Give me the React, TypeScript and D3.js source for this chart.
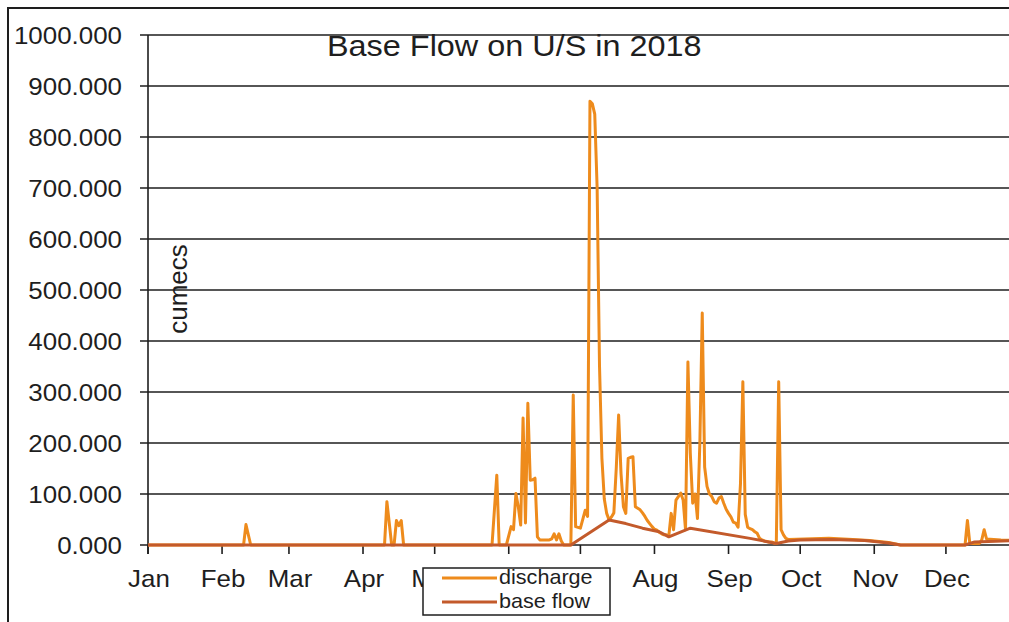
import React from "react";
import * as d3 from "d3";

// Month labels along the date axis
const monthLabels = ["Jan", "Feb", "Mar", "Apr", "May", "Jun", "Jul", "Aug", "Sep", "Oct", "Nov", "Dec"];

// Value axis ticks (cumecs)
const yTicks = [0, 100, 200, 300, 400, 500, 600, 700, 800, 900, 1000];

// Daily discharge, as (day of year from 1 Jan, cumecs); gaps are flat stretches
const dischargeDay = [
  0,
  40, 41, 43,
  99, 100, 102, 103, 104, 105, 106, 107,
  144, 146, 147,
  150, 152, 153, 154, 155, 156, 157, 158, 159, 160, 161, 162, 163, 164, 168, 169, 170, 171, 172, 173, 174,
  177, 178, 179, 181, 183, 184, 185, 186, 187, 188, 189, 190, 191, 192, 193, 194, 195, 196, 197, 198, 199,
  200, 201, 202, 203, 204, 205, 206, 207, 208, 209, 210, 211, 212, 213, 214, 215, 216, 217, 218, 219,
  220, 221, 222, 223, 224, 225, 226, 227, 228, 229, 230, 231, 232, 233, 234, 235, 236, 237, 238, 239,
  240, 241, 242, 243, 244, 245, 246, 247, 248, 249, 250, 251, 252, 253, 254, 255, 256, 257, 258, 259,
  260, 261, 262, 263, 264, 265, 266, 267, 268, 285, 295, 302, 310, 315,
  342, 343, 344, 348, 349, 350, 351, 357, 364,
];
const dischargeValue = [
  0,
  0, 40, 0,
  0, 85, 0, 0, 48, 38, 48, 0,
  0, 137, 0,
  0, 36, 30, 101, 75, 39, 249, 43, 278, 127, 128, 131, 16, 10, 10, 12, 22, 10, 22, 8, 0,
  0, 294, 36, 33, 68, 56, 870, 865, 845, 700, 350, 170, 90, 62, 49, 55, 63, 150, 255, 140, 75,
  62, 170, 172, 173, 75, 72, 69, 63, 56, 48, 42, 36, 31, 29, 25, 22, 20, 20, 18, 62,
  30, 88, 95, 102, 88, 30, 359, 180, 82, 100, 52, 200, 455, 153, 115, 100, 95, 85, 82, 92,
  95, 82, 70, 62, 55, 45, 43, 35, 120, 320, 60, 35, 32, 30, 26, 23, 13, 10, 8, 7,
  6, 6, 4, 3, 320, 30, 20, 13, 11, 13, 11, 9, 5, 0,
  0, 48, 3, 3, 10, 30, 12, 10, 9,
];

// Separated base flow, as (day of year from 1 Jan, cumecs)
const baseFlowDay = [0, 177, 193, 200, 207, 214, 218, 227, 252, 263, 268, 273, 286, 300, 310, 315, 342, 346, 364];
const baseFlowValue = [0, 0, 49, 42, 33, 26, 16, 33, 13, 3, 8, 10, 11, 9, 4, 0, 0, 6, 9];

const seriesNames = ["discharge", "base flow"];
const chartTitle = "Base Flow on U/S in 2018";
const yAxisTitle = "cumecs";

const W = 1009;
const H = 622;
const plot = { left: 148, top: 35, bottom: 545, right: 148 + 365 * 2.389 };
const legendBox = { x: 423, y: 568, w: 187, h: 47 };
const FONT = "'Liberation Sans', Arial, sans-serif";
const STRETCH = 1.08;
const INK = "#1e1e1e";
const DISCHARGE = "#EE8B1C";
const BASEFLOW = "#C35A2B";

type Pt = { date: Date; value: number };

const yearStart = new Date(2018, 0, 1);
const yearEnd = new Date(2019, 0, 1);
const toPoints = (days: number[], values: number[]): Pt[] =>
  days.map((d, i) => ({ date: d3.timeDay.offset(yearStart, d), value: values[i] }));

export default function App() {
  const x = d3.scaleTime().domain([yearStart, yearEnd]).range([plot.left, plot.right]);
  const y = d3.scaleLinear().domain([0, 1000]).range([plot.bottom, plot.top]);

  const line = d3
    .line<Pt>()
    .x((p) => x(p.date))
    .y((p) => y(p.value))
    .curve(d3.curveLinear);

  const discharge = toPoints(dischargeDay, dischargeValue);
  const baseFlow = toPoints(baseFlowDay, baseFlowValue);
  const months = d3.timeMonth.range(yearStart, yearEnd);

  const stretched = (tx: number, ty: number) => `translate(${tx},${ty}) scale(${STRETCH},1)`;
  // month labels lying entirely behind the legend box are not drawn
  const hiddenByLegend = (cx: number) => cx - 20 > legendBox.x && cx + 20 < legendBox.x + legendBox.w;

  return (
    <svg
      width={W}
      height={H}
      style={{ position: "absolute", left: 0, top: 0, background: "#fff" }}
      fontFamily={FONT}
    >
      <rect x={0} y={0} width={W} height={H} fill="#fff" />

      {/* chart frame */}
      <path d={`M8,${H} V8 H${W}`} fill="none" stroke={INK} strokeWidth={2} />

      {/* horizontal gridlines with outside ticks */}
      {yTicks.map((v) => (
        <line key={`g${v}`} x1={plot.left - 8} x2={plot.right} y1={y(v)} y2={y(v)} stroke={INK} strokeWidth={1.6} />
      ))}

      {/* value axis */}
      <line x1={plot.left} x2={plot.left} y1={plot.top} y2={plot.bottom + 9} stroke={INK} strokeWidth={1.6} />
      {yTicks.map((v) => (
        <text
          key={`yl${v}`}
          transform={stretched(122, y(v) + 8.5)}
          textAnchor="end"
          fontSize={24}
          fill={INK}
        >
          {d3.format(".3f")(v)}
        </text>
      ))}

      {/* date axis ticks and month labels */}
      {months.map((m, i) => (
        <g key={`m${i}`}>
          <line x1={x(m)} x2={x(m)} y1={plot.bottom} y2={plot.bottom + 9} stroke={INK} strokeWidth={1.6} />
          {!hiddenByLegend(x(m)) && (
            <text transform={stretched(x(m) + 1, 587)} textAnchor="middle" fontSize={24} fill={INK}>
              {monthLabels[i]}
            </text>
          )}
        </g>
      ))}

      {/* series */}
      <path d={line(discharge) ?? ""} fill="none" stroke={DISCHARGE} strokeWidth={3} strokeLinejoin="round" />
      <path d={line(baseFlow) ?? ""} fill="none" stroke={BASEFLOW} strokeWidth={3} strokeLinejoin="round" />

      {/* title and axis title */}
      <text transform={stretched(327, 56)} fontSize={30} fill={INK}>
        {chartTitle}
      </text>
      <text transform="translate(187,289) rotate(-90)" textAnchor="middle" fontSize={26} fill={INK}>
        {yAxisTitle}
      </text>

      {/* legend */}
      <g>
        <rect
          x={legendBox.x}
          y={legendBox.y}
          width={legendBox.w}
          height={legendBox.h}
          fill="#fff"
          stroke={INK}
          strokeWidth={1.5}
        />
        {seriesNames.map((name, i) => (
          <g key={name}>
            <line
              x1={442}
              x2={497}
              y1={578 + i * 24}
              y2={578 + i * 24}
              stroke={i === 0 ? DISCHARGE : BASEFLOW}
              strokeWidth={3}
            />
            <text transform={stretched(499, 584 + i * 24)} fontSize={20} fill={INK}>
              {name}
            </text>
          </g>
        ))}
      </g>
    </svg>
  );
}
